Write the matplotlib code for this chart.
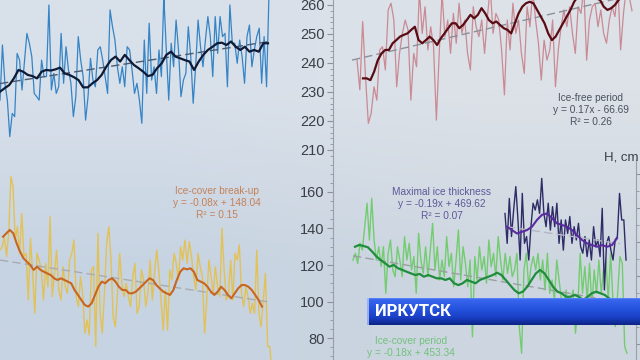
import matplotlib

matplotlib.use("Agg")
import matplotlib.pyplot as plt
import numpy as np
from matplotlib.colors import to_rgb, LinearSegmentedColormap
from matplotlib.ticker import MultipleLocator

plt.rcParams["font.family"] = ["Liberation Sans", "DejaVu Sans"]

# ---- data (values on the visible axis scales) ----
BLUE_YEARS = (1869, 2003.5)
BLUE_RAW = [227.2, 246.2, 233.0, 227.2, 214.6, 222.6, 221.5, 243.3, 241.0, 230.7,
            240.5, 250.2, 246.8, 242.2, 229.5, 228.4, 227.2, 241.0, 235.3, 235.3,
            260.0, 230.7, 236.4, 229.5, 231.8, 250.2, 233.0, 245.6, 237.6, 233.0,
            221.5, 228.4, 249.1, 241.0, 235.3, 220.3, 228.4, 241.6, 234.1, 231.8,
            244.5, 245.6, 241.0, 235.3, 229.5, 258.3, 252.5, 247.9, 238.7, 233.0,
            238.7, 231.8, 245.6, 244.5, 237.6, 229.5, 233.0, 227.2, 219.2, 247.9,
            229.5, 253.7, 234.1, 238.7, 229.5, 244.5, 235.3, 263.0, 244.5, 227.2,
            246.8, 238.7, 254.8, 244.5, 228.4, 234.1, 236.4, 252.5, 242.2, 226.1,
            238.7, 254.8, 245.6, 238.7, 247.9, 256.0, 249.1, 235.3, 256.0, 243.3,
            256.0, 249.1, 250.2, 231.8, 260.0, 246.8, 246.8, 239.9, 247.9, 242.2,
            233.0, 249.1, 253.1, 238.7, 244.5, 249.1, 252.0, 233.0, 249.1, 231.8,
            264.0]
BLUE_SMOOTH = [230.1, 231.3, 232.4, 234.7, 237.6, 237.0, 235.9, 235.5, 234.7, 237.0,
               237.6, 237.4, 237.8, 238.4, 236.4, 235.9, 235.1, 234.1, 231.6, 231.6,
               233.0, 234.1, 235.9, 238.7, 241.0, 242.2, 240.5, 242.8, 241.0, 239.3,
               238.2, 237.0, 235.5, 235.9, 238.2, 239.9, 242.8, 243.9, 242.2, 241.6,
               241.0, 240.5, 237.6, 240.5, 242.8, 244.5, 245.6, 246.8, 247.0, 246.2,
               247.4, 245.6, 244.5, 245.6, 243.9, 244.5, 243.9, 246.8, 246.8]
BLUE_TREND = [232.9, 247.4]

RED_YEARS = (1869, 2006.5)
RED_RAW = [241.0, 230.7, 254.3, 235.3, 219.2, 222.6, 231.8, 227.2, 244.5, 245.6,
           237.6, 258.3, 260.6, 254.8, 231.8, 243.3, 250.2, 254.8, 251.4, 227.2,
           243.3, 238.7, 265.0, 250.2, 259.4, 244.5, 252.5, 245.6, 220.3, 243.3,
           264.0, 249.1, 254.8, 243.3, 257.1, 246.8, 260.6, 250.2, 254.8, 243.3,
           237.6, 259.4, 252.5, 249.1, 254.8, 243.3, 256.0, 266.0, 250.2, 257.1,
           254.8, 244.5, 229.0, 254.8, 244.5, 260.6, 250.2, 254.8, 243.3, 236.4,
           259.4, 252.5, 265.0, 254.8, 246.8, 234.1, 247.9, 241.0, 244.5, 254.8,
           231.8, 244.5, 252.5, 258.3, 252.5, 259.4, 250.2, 243.3, 259.4, 257.1,
           266.0, 241.0, 254.8, 259.4, 260.6, 252.5, 258.3, 250.2, 246.8, 254.8,
           259.4, 256.0, 267.0, 244.5, 257.1, 266.0, 263.0, 258.0]
RED_SMOOTH_YEARS = (1872, 2003.5)
RED_SMOOTH = [234.7, 234.7, 234.1, 237.0, 241.0, 243.3, 244.5, 244.5, 246.8, 247.9,
              249.1, 249.7, 250.2, 251.4, 252.5, 247.9, 246.8, 247.9, 249.1, 247.9,
              246.2, 248.5, 250.2, 252.0, 253.7, 253.7, 252.0, 253.1, 254.8, 256.6,
              255.4, 256.6, 258.9, 257.1, 254.8, 253.7, 254.3, 253.1, 252.0, 251.4,
              250.2, 253.7, 257.1, 259.4, 260.6, 261.1, 260.6, 258.3, 256.0, 253.7,
              250.2, 247.9, 249.1, 251.4, 253.7, 256.0, 258.3, 261.1, 262.9, 263.5,
              263.5, 262.9, 262.9, 262.3, 261.7, 259.4, 258.3, 258.9, 260.0, 261.7,
              263.0, 264.0]
RED_TREND_YEARS = (1866.5, 2010.5)
RED_TREND = [241.0, 264.0]

YELLOW_YEARS = (1869, 2005)
YELLOW_RAW = [128.2, 130.0, 135.5, 124.6, 137.4, 168.4, 162.9, 133.7, 141.0, 126.4,
              148.3, 124.6, 126.4, 100.8, 134.6, 115.4, 93.5, 126.4, 122.7, 117.3,
              100.8, 120.9, 108.1, 146.5, 102.6, 115.4, 128.2, 106.3, 100.8, 119.1,
              108.1, 104.5, 122.7, 126.4, 133.7, 102.6, 97.2, 113.6, 104.5, 82.6,
              89.9, 81.6, 117.3, 119.1, 75.3, 137.4, 93.5, 82.6, 104.5, 131.9,
              141.0, 122.7, 91.7, 86.2, 104.5, 126.4, 110.0, 102.6, 110.0, 102.6,
              97.2, 113.6, 120.9, 93.5, 97.2, 117.3, 111.8, 97.2, 104.5, 122.7,
              100.8, 115.4, 128.2, 117.3, 100.8, 84.4, 106.3, 84.4, 117.3, 111.8,
              126.4, 120.9, 111.8, 130.0, 122.7, 133.7, 120.9, 132.8, 124.6, 113.6,
              106.3, 126.4, 119.1, 113.6, 82.6, 100.8, 122.7, 113.6, 104.5, 119.1,
              108.1, 102.6, 140.1, 117.3, 100.8, 104.5, 122.7, 100.8, 126.4, 122.7,
              131.0, 104.5, 97.2, 108.1, 102.6, 93.5, 99.0, 93.5, 128.2, 93.5,
              86.2, 100.8, 115.4, 75.3, 75.3, 60.6]
YELLOW_SMOOTH_YEARS = (1870.5, 2000)
YELLOW_SMOOTH = [135.5, 137.4, 139.2, 137.4, 131.9, 127.3, 123.7, 121.8, 120.0, 117.3,
                 119.1, 117.3, 116.3, 115.4, 114.5, 112.7, 111.8, 112.7, 111.8, 110.9,
                 110.0, 106.3, 103.6, 100.8, 98.1, 97.2, 99.0, 103.6, 108.1, 110.9,
                 110.0, 111.8, 112.7, 110.9, 108.1, 106.3, 106.3, 104.5, 104.5, 105.4,
                 107.2, 109.0, 110.9, 112.7, 111.8, 109.0, 107.2, 105.4, 104.5, 103.6,
                 106.3, 111.8, 116.3, 118.2, 117.6, 118.2, 116.3, 111.8, 110.9, 110.0,
                 108.1, 105.4, 103.6, 105.4, 108.1, 106.3, 103.6, 101.7, 104.5, 107.2,
                 109.0, 109.0, 108.1, 106.3, 103.6, 100.8, 97.2]
YELLOW_TREND = [122.7, 99.9]

GREEN_YEARS = (1867, 2004)
GREEN_RAW = [122.7, 126.4, 120.9, 131.9, 128.2, 141.0, 153.8, 133.7, 156.5, 133.7,
             122.7, 130.0, 119.1, 130.0, 104.5, 126.4, 133.7, 117.3, 113.6, 130.0,
             122.7, 113.6, 135.5, 122.7, 131.9, 117.3, 124.6, 104.5, 137.4, 122.7,
             115.4, 130.0, 113.6, 128.2, 142.8, 117.3, 130.0, 111.8, 122.7, 113.6,
             135.5, 119.1, 126.4, 108.1, 122.7, 139.2, 111.8, 130.0, 120.9, 108.1,
             122.7, 80.7, 124.6, 111.8, 130.0, 117.3, 124.6, 110.0, 133.7, 119.1,
             126.4, 113.6, 135.5, 122.7, 111.8, 126.4, 115.4, 124.6, 113.6, 117.3,
             126.4, 86.2, 71.6, 117.3, 126.4, 108.1, 119.1, 124.6, 117.3, 126.4,
             111.8, 122.7, 106.3, 126.4, 104.5, 111.8, 100.8, 122.7, 111.8, 100.8,
             97.2, 106.3, 93.5, 100.8, 106.3, 82.6, 97.2, 126.4, 104.5, 119.1,
             100.8, 120.9, 97.2, 117.3, 104.5, 122.7, 104.5, 117.3, 122.7, 100.8,
             126.4, 100.8, 86.2, 104.5, 124.6, 120.9, 75.3, 71.6]
GREEN_SMOOTH_YEARS = (1868, 2001.5)
GREEN_SMOOTH = [130.0, 131.0, 130.4, 129.7, 127.3, 124.6, 122.7, 120.9, 119.1, 120.0,
                118.2, 117.3, 116.3, 115.4, 114.5, 115.1, 113.6, 114.5, 113.6, 112.7,
                112.7, 111.8, 112.7, 110.0, 109.0, 110.0, 111.8, 110.9, 110.0, 111.8,
                112.7, 113.6, 114.5, 115.8, 114.5, 111.8, 109.0, 106.3, 104.5, 105.4,
                108.1, 111.8, 115.4, 117.3, 115.4, 111.8, 108.1, 105.4, 104.5, 102.6,
                102.6, 103.6, 102.6, 100.8, 102.6, 104.5, 105.4, 104.5, 103.6, 101.7,
                100.8, 100.8, 99.9]
GREEN_TREND = [125.0, 99.0]

PURPLE_YEARS = (1943, 2003.5)
PURPLE_RAW = [98.4, 89.6, 102.8, 91.6, 99.4, 106.3, 96.5, 84.7, 104.3, 89.6,
              91.6, 84.7, 94.5, 101.4, 99.4, 102.4, 98.4, 108.7, 98.4, 94.5,
              101.4, 93.5, 100.4, 94.5, 101.4, 89.6, 96.5, 87.6, 96.5, 92.5,
              97.5, 89.6, 94.5, 90.6, 95.5, 88.6, 86.7, 91.6, 85.7, 90.6,
              84.7, 94.5, 88.6, 90.6, 85.7, 99.9, 75.9, 89.6, 91.6, 87.6,
              84.7, 90.6, 91.6, 104.3, 96.5, 96.5, 84.7]
PURPLE_SMOOTH_YEARS = (1944, 1999)
PURPLE_SMOOTH = [94.5, 93.5, 92.5, 93.0, 93.5, 94.5, 96.5, 98.0, 98.4, 97.0,
                 95.5, 95.0, 94.5, 93.5, 92.0, 90.6, 89.6, 89.1, 88.6, 89.1,
                 88.6, 89.1, 91.1]
PURPLE_TREND_YEARS = (1944, 2000.5)
PURPLE_TREND = [94.5, 89.5]

W, H = 640, 360


def box(x0, y0, x1, y1):
    """Pixel box (origin top-left) -> figure rect."""
    return [x0 / W, 1 - y1 / H, (x1 - x0) / W, (y1 - y0) / H]


def series(ax, span, values, **kw):
    x = np.linspace(span[0], span[1], len(values))
    ax.plot(x, values, **kw)


def bare(ax):
    ax.set_facecolor("none")
    for s in ax.spines.values():
        s.set_visible(False)
    ax.set_xticks([])
    ax.set_yticks([])


def left_axis(ax, major, minor):
    ax.set_facecolor("none")
    for k in ("top", "right", "bottom"):
        ax.spines[k].set_visible(False)
    ax.spines["left"].set_color("#9aa0a8")
    ax.spines["left"].set_linewidth(0.8)
    ax.set_xticks([])
    ax.yaxis.set_major_locator(MultipleLocator(major))
    ax.yaxis.set_minor_locator(MultipleLocator(minor))
    ax.tick_params(axis="y", which="major", length=4, width=0.8, color="#8d939c",
                   labelsize=10.5, labelcolor="#3b3f47", pad=2)
    ax.tick_params(axis="y", which="minor", length=2, width=0.6, color="#8d939c")


fig = plt.figure(figsize=(6.4, 3.6), dpi=100)

# photographed screen background
bg = fig.add_axes([0, 0, 1, 1], zorder=-10)
grad = np.array([[to_rgb("#d8e0ea"), to_rgb("#dde2e8")],
                 [to_rgb("#c6d3e2"), to_rgb("#cdd6e0")]])
bg.imshow(grad, extent=(0, 1, 0, 1), aspect="auto", interpolation="bilinear")
bg.set_xlim(0, 1)
bg.set_ylim(0, 1)
bg.axis("off")

dash = (0, (6, 3))

# top-left: blue series
ax_tl = fig.add_axes(box(0, 0, 290, 160))
bare(ax_tl)
ax_tl.set_xlim(1869, 2014)
ax_tl.set_ylim(206.55, 261.72)
series(ax_tl, BLUE_YEARS, BLUE_RAW, color="#3584c6", lw=0.9)
series(ax_tl, BLUE_YEARS, BLUE_TREND, color="#4c5a70", lw=1.0, ls=dash)
series(ax_tl, (1869, 2003), BLUE_SMOOTH, color="#0e1a36", lw=1.6)

# top-right: ice-free period
ax_tr = fig.add_axes(box(333, 0, 640, 160))
left_axis(ax_tr, 10, 2)
ax_tr.set_xlim(1857, 2010.5)
ax_tr.set_ylim(206.55, 261.72)
series(ax_tr, RED_YEARS, RED_RAW, color="#c98a94", lw=0.9)
series(ax_tr, RED_TREND_YEARS, RED_TREND, color="#8c8f98", lw=1.0, ls=dash)
series(ax_tr, RED_SMOOTH_YEARS, RED_SMOOTH, color="#5a0c14", lw=1.6)

# bottom-left: ice-cover break-up
ax_bl = fig.add_axes(box(0, 160, 290, 360))
bare(ax_bl)
ax_bl.set_xlim(1869, 2014)
ax_bl.set_ylim(67.95, 177.53)
series(ax_bl, YELLOW_YEARS, YELLOW_RAW, color="#e2c257", lw=1.0)
series(ax_bl, (1869, 2002.5), YELLOW_TREND, color="#a9abb0", lw=1.0, ls=dash)
series(ax_bl, YELLOW_SMOOTH_YEARS, YELLOW_SMOOTH, color="#c8651e", lw=1.5)

# bottom-right: ice-cover period + maximal ice thickness (right axis)
ax_br = fig.add_axes(box(333, 160, 636, 360))
left_axis(ax_br, 20, 5)
ax_br.set_xlim(1857, 2008.5)
ax_br.set_ylim(67.95, 177.53)
series(ax_br, GREEN_YEARS, GREEN_RAW, color="#74cc70", lw=1.0)
series(ax_br, GREEN_YEARS, GREEN_TREND, color="#9aa0a0", lw=1.0, ls=dash)
series(ax_br, GREEN_SMOOTH_YEARS, GREEN_SMOOTH, color="#1f8d3c", lw=1.6)

ax_r = ax_br.twinx()
ax_r.set_facecolor("none")
for k in ("top", "left", "bottom"):
    ax_r.spines[k].set_visible(False)
ax_r.spines["right"].set_color("#9aa0a8")
ax_r.spines["right"].set_linewidth(0.8)
ax_r.set_ylim(55.29, 114.12)
ax_r.yaxis.set_major_locator(MultipleLocator(10))
ax_r.yaxis.set_minor_locator(MultipleLocator(5))
# the tick labels of the thickness axis lie beyond the photo's right edge
ax_r.tick_params(axis="y", which="major", length=4, width=0.8, color="#8d939c",
                 labelright=False)
ax_r.tick_params(axis="y", which="minor", length=2, width=0.6, color="#8d939c")
series(ax_r, PURPLE_YEARS, PURPLE_RAW, color="#2e2c66", lw=1.0)
series(ax_r, PURPLE_TREND_YEARS, PURPLE_TREND, color="#b4b6c4", lw=1.0, ls=dash)
series(ax_r, PURPLE_SMOOTH_YEARS, PURPLE_SMOOTH, color="#5a2aa0", lw=1.5)


def ftext(px, py, s, **kw):
    fig.text(px / W, 1 - py / H, s, **kw)


ftext(591, 110, "Ice-free period\ny = 0.17x - 66.69\nR² = 0.26",
      ha="center", va="center", fontsize=7.3, color="#4a5260", linespacing=1.25)
ftext(217, 203, "Ice-cover break-up\ny = -0.08x + 148.04\nR² = 0.15",
      ha="center", va="center", fontsize=7.3, color="#c4825a", linespacing=1.25)
ftext(442, 204, "Maximal ice thickness\ny = -0.19x + 469.62\nR² = 0.07",
      ha="center", va="center", fontsize=7.3, color="#5c5a98", linespacing=1.25)
ftext(411, 347, "Ice-cover period\ny = -0.18x + 453.34",
      ha="center", va="center", fontsize=7.3, color="#74c27c", linespacing=1.25)
ftext(638, 157, "H, cm", ha="right", va="center", fontsize=9.5, color="#3a3f48")

# TV caption banner
ban = fig.add_axes(box(367, 298, 640, 325), zorder=20)
cmap = LinearSegmentedColormap.from_list(
    "banner", [(0.0, "#7aa2ff"), (0.08, "#3766ee"), (0.45, "#2451dd"),
               (0.75, "#1a3ec2"), (1.0, "#0c2486")])
ban.imshow(np.linspace(0, 1, 64).reshape(-1, 1), cmap=cmap, aspect="auto",
           extent=(0, 1, 0, 1))
ban.axvline(0.004, color="#b0c4ff", lw=1.2)
ban.set_xlim(0, 1)
ban.set_ylim(0, 1)
ban.axis("off")
ban.text(0.029, 0.5, "ИРКУТСК", ha="left", va="center", color="white",
         fontsize=12, fontweight="bold", family=["Roboto", "DejaVu Sans"])

fig.savefig("out.png", dpi=100)
plt.close(fig)
